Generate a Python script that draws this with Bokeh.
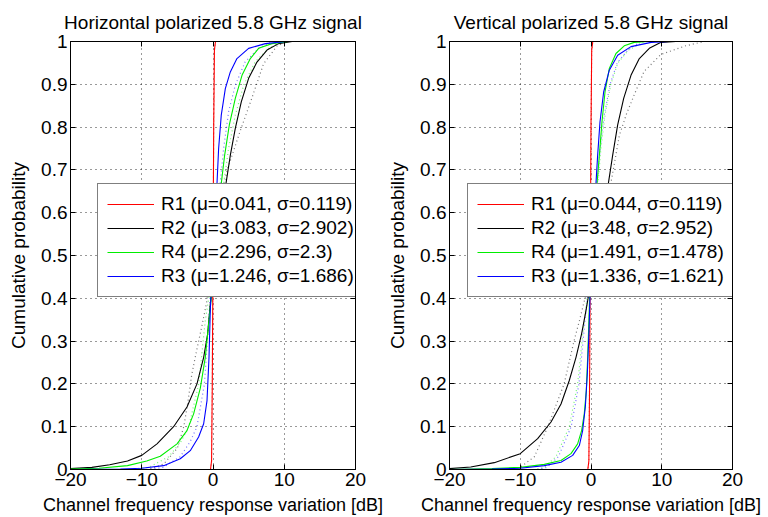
from bokeh.plotting import figure
from bokeh.models import Range1d, FixedTicker, Legend, LegendItem, LinearAxis
from bokeh.layouts import row
from bokeh.embed import file_html
from bokeh.resources import INLINE

# ---------------- data ----------------
x_ticks = [-20, -10, 0, 10, 20]
x_tick_labels = ["\u221220", "\u221210", "0", "10", "20"]
y_ticks = [0, 0.1, 0.2, 0.3, 0.4, 0.5, 0.6, 0.7, 0.8, 0.9, 1]
y_tick_labels = ["0", "0.1", "0.2", "0.3", "0.4", "0.5", "0.6", "0.7", "0.8", "0.9", "1"]

titles = ["Horizontal polarized 5.8 GHz signal", "Vertical polarized 5.8 GHz signal"]
x_label = "Channel frequency response variation [dB]"
y_label = "Cumulative probability"

series_names = ["R1", "R2", "R4", "R3"]
series_colors = ["#ff0000", "#000000", "#00ee00", "#0000ff"]
H_labels = ["R1 (\u03bc=0.041, \u03c3=0.119)", "R2 (\u03bc=3.083, \u03c3=2.902)",
            "R4 (\u03bc=2.296, \u03c3=2.3)", "R3 (\u03bc=1.246, \u03c3=1.686)"]
V_labels = ["R1 (\u03bc=0.044, \u03c3=0.119)", "R2 (\u03bc=3.48, \u03c3=2.952)",
            "R4 (\u03bc=1.491, \u03c3=1.478)", "R3 (\u03bc=1.336, \u03c3=1.621)"]

# Horizontal polarization - measured CDFs
H_R1_x = [-20, -0.35, -0.2, -0.1, 0.0, 0.1, 0.2, 0.35, 20]
H_R1_y = [0, 0, 0.02, 0.2, 0.5, 0.8, 0.98, 1, 1]
H_R2_x = [-20, -17, -14.5, -12, -10, -7.86, -5.53, -3.65, -2.25, -1.31, -0.75, -0.38,
          1.82, 2.43, 3.13, 3.97, 5.0, 6.17, 7.58, 9.2, 11.1, 20]
H_R2_y = [0.002, 0.005, 0.011, 0.02, 0.033, 0.06, 0.1, 0.146, 0.2, 0.262, 0.317, 0.387,
          0.668, 0.734, 0.797, 0.859, 0.914, 0.952, 0.98, 0.995, 1.0, 1.0]
H_R4_x = [-20, -16, -12, -9.3, -7.4, -5.05, -3.65, -2.72, -1.78, -1.08, -0.61, -0.29,
          1.16, 1.63, 2.29, 3.13, 4.07, 5.24, 6.4, 8.28, 10.5, 20]
H_R4_y = [0.001, 0.003, 0.009, 0.02, 0.031, 0.06, 0.091, 0.13, 0.19, 0.262, 0.34, 0.395,
          0.668, 0.734, 0.805, 0.867, 0.921, 0.96, 0.984, 0.995, 1.0, 1.0]
H_R3_x = [-20, -13, -10, -6.93, -4.59, -3.19, -2.02, -1.31, -0.84, -0.56, -0.38, -0.3,
          0.56, 0.79, 1.16, 1.73, 2.43, 3.36, 5.0, 7.34, 10.3, 20]
H_R3_y = [0, 0.001, 0.003, 0.009, 0.025, 0.044, 0.076, 0.107, 0.161, 0.262, 0.371, 0.40,
          0.668, 0.75, 0.828, 0.89, 0.929, 0.96, 0.984, 0.995, 1.0, 1.0]

# Horizontal polarization - fitted CDFs (dotted)
H_R1_fit_x = [-20, -0.35, -0.2, -0.1, 0.0, 0.1, 0.2, 0.35, 20]
H_R1_fit_y = [0, 0, 0.02, 0.2, 0.5, 0.8, 0.98, 1, 1]
H_R2_fit_x = [-20, -9, -6.9, -5.0, -4.1, -3.5, -3.0, -2.4, -1.5, -0.9, 0.0,
              1.6, 2.0, 3.8, 5.5, 7.1, 9.0, 10.5, 20]
H_R2_fit_y = [0, 0, 0.013, 0.05, 0.1, 0.16, 0.22, 0.27, 0.34, 0.39, 0.5,
              0.67, 0.70, 0.79, 0.87, 0.948, 0.99, 1, 1]
H_R4_fit_x = [-20, -12, -9, -6.2, -4.5, -3.4, -2.0, -1.08, -0.6, 0.3,
              1.49, 2.19, 3.13, 4.3, 5.9, 7.8, 9.7, 20]
H_R4_fit_y = [0, 0, 0.005, 0.03, 0.065, 0.1, 0.2, 0.348, 0.4, 0.5,
              0.668, 0.75, 0.828, 0.898, 0.952, 0.984, 1, 1]
H_R3_fit_x = [-20, -9, -7, -4.6, -3.2, -2.25, -1.2, -0.6, -0.4, 0.3,
              1.02, 1.49, 2.19, 3.13, 4.5, 6.4, 8.3, 20]
H_R3_fit_y = [0, 0, 0.005, 0.03, 0.065, 0.1, 0.2, 0.348, 0.4, 0.5,
              0.67, 0.75, 0.836, 0.898, 0.952, 0.984, 1, 1]

# Vertical polarization - measured CDFs
V_R1_x = [-20, -0.45, -0.3, -0.2, -0.1, 0.0, 0.1, 0.25, 20]
V_R1_y = [0, 0, 0.02, 0.2, 0.5, 0.8, 0.98, 1, 1]
V_R2_x = [-20, -17, -13.67, -10, -7.54, -5.65, -4.24, -3.07, -2.12, -1.33, -0.71, -0.38,
          2.45, 3.06, 3.77, 4.62, 5.65, 6.83, 8.24, 9.9, 12, 20]
V_R2_y = [0.002, 0.006, 0.016, 0.037, 0.072, 0.111, 0.153, 0.208, 0.262, 0.317, 0.371, 0.403,
          0.668, 0.734, 0.805, 0.867, 0.921, 0.96, 0.984, 0.998, 1.0, 1.0]
V_R4_x = [-20, -14, -10, -6.6, -4.24, -2.83, -1.89, -1.33, -0.95, -0.66, -0.47, -0.28, -0.2,
          0.85, 1.18, 1.55, 1.98, 2.59, 3.53, 4.7, 6.1, 8, 20]
V_R4_y = [0, 0.002, 0.005, 0.012, 0.021, 0.037, 0.06, 0.091, 0.13, 0.185, 0.262, 0.356, 0.40,
          0.668, 0.734, 0.812, 0.882, 0.937, 0.972, 0.99, 0.998, 1.0, 1.0]
V_R3_x = [-20, -14, -10, -6.6, -4.24, -2.59, -1.65, -1.18, -0.8, -0.52, -0.28, -0.15,
          0.7, 0.94, 1.27, 1.79, 2.59, 3.77, 5.65, 8.5, 11, 20]
V_R3_y = [0, 0.001, 0.003, 0.009, 0.017, 0.033, 0.056, 0.091, 0.146, 0.224, 0.325, 0.40,
          0.668, 0.734, 0.812, 0.882, 0.933, 0.968, 0.988, 0.998, 1.0, 1.0]

# Vertical polarization - fitted CDFs (dotted)
V_R1_fit_x = [-20, -0.45, -0.3, -0.2, -0.1, 0.0, 0.1, 0.25, 20]
V_R1_fit_y = [0, 0, 0.02, 0.2, 0.5, 0.8, 0.98, 1, 1]
V_R2_fit_x = [-20, -12, -10, -8.0, -6.1, -3.8, -2.4, -1.6, -0.7, 0.5,
              2.8, 4.0, 5.0, 6.1, 7.5, 9.9, 13.4, 16, 20]
V_R2_fit_y = [0, 0, 0.005, 0.03, 0.1, 0.2, 0.3, 0.35, 0.41, 0.5,
              0.668, 0.78, 0.83, 0.875, 0.93, 0.97, 0.99, 1, 1]
V_R4_fit_x = [-20, -8, -6.6, -4.95, -3.07, -1.89, -0.95, -0.5, 0.2,
              1.0, 1.4, 2.0, 2.8, 3.8, 5.3, 7.5, 20]
V_R4_fit_y = [0, 0, 0.005, 0.03, 0.1, 0.2, 0.348, 0.41, 0.5,
              0.668, 0.75, 0.83, 0.9, 0.95, 0.98, 1, 1]
V_R3_fit_x = [-20, -7.5, -6.2, -4.6, -2.8, -1.7, -0.85, -0.45, 0.2,
              0.9, 1.3, 1.9, 2.7, 3.7, 5.2, 7.0, 20]
V_R3_fit_y = [0, 0, 0.005, 0.03, 0.1, 0.2, 0.348, 0.41, 0.5,
              0.668, 0.75, 0.83, 0.9, 0.95, 0.98, 1, 1]

H_meas = [(H_R1_x, H_R1_y), (H_R2_x, H_R2_y), (H_R4_x, H_R4_y), (H_R3_x, H_R3_y)]
H_fits = [(H_R1_fit_x, H_R1_fit_y), (H_R2_fit_x, H_R2_fit_y), (H_R4_fit_x, H_R4_fit_y), (H_R3_fit_x, H_R3_fit_y)]
V_meas = [(V_R1_x, V_R1_y), (V_R2_x, V_R2_y), (V_R4_x, V_R4_y), (V_R3_x, V_R3_y)]
V_fits = [(V_R1_fit_x, V_R1_fit_y), (V_R2_fit_x, V_R2_fit_y), (V_R4_fit_x, V_R4_fit_y), (V_R3_fit_x, V_R3_fit_y)]

FONT = "Liberation Sans"
FS = "19px"
FS_XLABEL = "18px"


def style_axis(ax, ticks, labels, show_labels=True):
    ax.ticker = FixedTicker(ticks=ticks)
    ax.axis_line_color = "black"
    ax.major_tick_line_color = "black"
    ax.major_tick_in = 5
    ax.major_tick_out = 0
    ax.minor_tick_line_color = None
    ax.major_label_text_font = FONT
    ax.major_label_text_color = "black"
    ax.major_label_text_font_size = FS
    if show_labels:
        ax.major_label_overrides = {t: l for t, l in zip(ticks, labels)}
        ax.major_label_standoff = 3
    else:
        ax.major_label_overrides = {t: "" for t in ticks}
        ax.major_label_standoff = 0


def make_panel(title, meas, fits, labels, border_left, border_right, frame_w, legend_loc):
    p = figure(frame_width=frame_w, frame_height=428,
               x_range=Range1d(-20, 20), y_range=Range1d(0, 1),
               output_backend="svg", toolbar_location=None,
               min_border_left=border_left, min_border_right=border_right,
               min_border_top=41, min_border_bottom=46,
               background_fill_color="white", border_fill_color="white")
    p.title.text = title
    p.title.align = "center"
    p.title.text_font = FONT
    p.title.text_font_size = FS
    p.title.text_font_style = "normal"
    p.title.text_color = "black"
    p.title.standoff = 17

    p.outline_line_color = "black"
    p.outline_line_width = 1

    for g in (p.xgrid, p.ygrid):
        g.grid_line_color = "black"
        g.grid_line_dash = "1 4"
        g.grid_line_alpha = 0.8
    p.xgrid.ticker = FixedTicker(ticks=x_ticks)
    p.ygrid.ticker = FixedTicker(ticks=y_ticks)

    style_axis(p.xaxis[0], x_ticks, x_tick_labels)
    style_axis(p.yaxis[0], y_ticks, y_tick_labels)
    p.xaxis[0].axis_label = x_label
    p.yaxis[0].axis_label = y_label
    for ax in (p.xaxis[0], p.yaxis[0]):
        ax.axis_label_text_font = FONT
        ax.axis_label_text_font_style = "normal"
        ax.axis_label_text_color = "black"
    p.xaxis[0].axis_label_text_font_size = FS_XLABEL
    p.yaxis[0].axis_label_text_font_size = FS
    p.xaxis[0].axis_label_standoff = 6
    p.yaxis[0].axis_label_standoff = 9

    top_ax = LinearAxis()
    style_axis(top_ax, x_ticks, x_tick_labels, show_labels=False)
    p.add_layout(top_ax, "above")
    right_ax = LinearAxis()
    style_axis(right_ax, y_ticks, y_tick_labels, show_labels=False)
    p.add_layout(right_ax, "right")

    for (fx, fy), col in zip(fits, series_colors):
        p.line(fx, fy, line_color=col, line_width=1.2, line_dash="1 3", line_alpha=0.55)

    items = []
    for (mx, my), col, lab in zip(meas, series_colors, labels):
        r = p.line(mx, my, line_color=col, line_width=1.1)
        items.append(LegendItem(label=lab, renderers=[r]))

    leg = Legend(items=items, location=legend_loc)
    leg.label_text_font = FONT
    leg.label_text_font_size = FS
    leg.label_text_color = "black"
    leg.glyph_width = 47
    leg.glyph_height = 20
    leg.label_height = 20
    leg.label_standoff = 7
    leg.spacing = 2
    leg.padding = 9
    leg.margin = 0
    leg.border_line_color = "black"
    leg.border_line_width = 1
    leg.background_fill_color = "white"
    leg.background_fill_alpha = 1.0
    p.add_layout(leg)
    return p


p1 = make_panel(titles[0], H_meas, H_fits, H_labels, 70, 29, 285, (27, 172))
p2 = make_panel(titles[1], V_meas, V_fits, V_labels, 61, 30, 283, (18, 172))

layout = row(p1, p2)
open("out.html", "w").write(file_html(layout, INLINE))
